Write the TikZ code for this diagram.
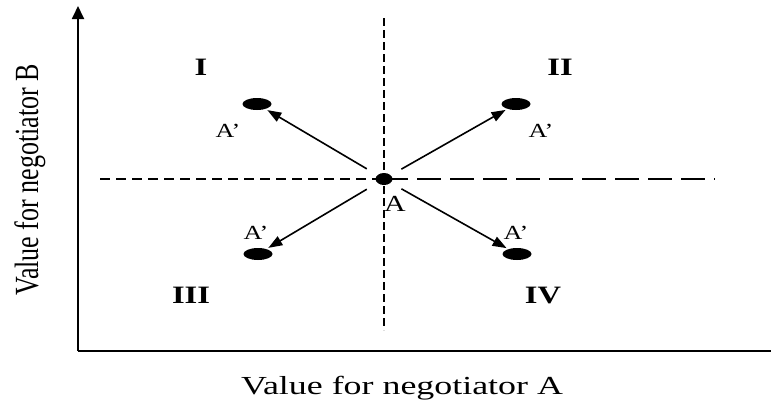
\documentclass[tikz,border=0pt]{standalone}
\usepackage{fontspec}
\setmainfont{Liberation Serif}
\usetikzlibrary{arrows.meta,shapes.geometric}
\newcommand{\hs}[1]{\scalebox{1.3}[1]{#1}}
\newcommand{\vs}[1]{\scalebox{1}[1.3]{#1}}
\begin{document}
\begin{tikzpicture}[x=1pt,y=-1pt,
  axisline/.style={line width=1.8pt},
  pt/.style={ellipse,fill=black,inner sep=0pt},
  apt/.style={pt,minimum width=29pt,minimum height=12pt},
  mv/.style={line width=1.6pt,-{Triangle[length=14pt,width=10pt]},shorten <=20pt,shorten >=12pt},
  quad/.style={font=\fontsize{25}{28}\selectfont\bfseries},
  plab/.style={font=\fontsize{20}{23}\selectfont},
  axlab/.style={font=\fontsize{26}{30}\selectfont}]
\useasboundingbox (0,0) rectangle (771,402);
% axes
\coordinate (O) at (78,351);
\coordinate (Ytop) at (78,6);
\coordinate (Xend) at (771,351);
\draw[axisline,-{Triangle[length=13pt,width=12pt]}] (O) -- (Ytop);
\draw[axisline] (O) -- (Xend);
% dashed cross
\coordinate (HL) at (100,179);
\coordinate (HM) at (384,179);
\coordinate (HR) at (715,179);
\coordinate (VT) at (384,18);
\coordinate (VB) at (384,330);
\draw[line width=1.2pt,dash pattern=on 10pt off 6pt] (HL) -- (HM);
\draw[line width=1.4pt,dash pattern=on 24pt off 9pt] (HM) -- (HR);
\draw[line width=1.1pt,dash pattern=on 8pt off 4pt] (VT) -- (VB);
% points
\node[pt,minimum width=17pt,minimum height=12pt] (A) at (384,179) {};
\node[apt] (UL) at (257,104) {};
\node[apt] (UR) at (516,104) {};
\node[apt] (LL) at (258,254) {};
\node[apt] (LR) at (517,254) {};
\draw[mv] (A.center) -- (UL.center);
\draw[mv] (A.center) -- (UR.center);
\draw[mv] (A.center) -- (LL.center);
\draw[mv] (A.center) -- (LR.center);
% labels
\node[font=\fontsize{23}{26}\selectfont] (lA) at (395,204) {\hs{A}};
\node[plab] (lUL) at (228,131) {\hs{A’}};
\node[plab] (lUR) at (541,131) {\hs{A’}};
\node[plab] (lLL) at (256,233) {\hs{A’}};
\node[plab] (lLR) at (516,233) {\hs{A’}};
\node[quad] (q1) at (201,67) {\hs{I}};
\node[quad] (q2) at (560,67) {\hs{II}};
\node[quad] (q3) at (191,295) {\hs{III}};
\node[quad] (q4) at (543,295) {\hs{IV}};
\node[axlab,anchor=base] (xl) at (402,394) {\scalebox{1.38}[1]{Value for negotiator A}};
\node[axlab,anchor=base,rotate=90] (yl) at (38,180) {\vs{Value for negotiator B}};
\end{tikzpicture}
\end{document}
